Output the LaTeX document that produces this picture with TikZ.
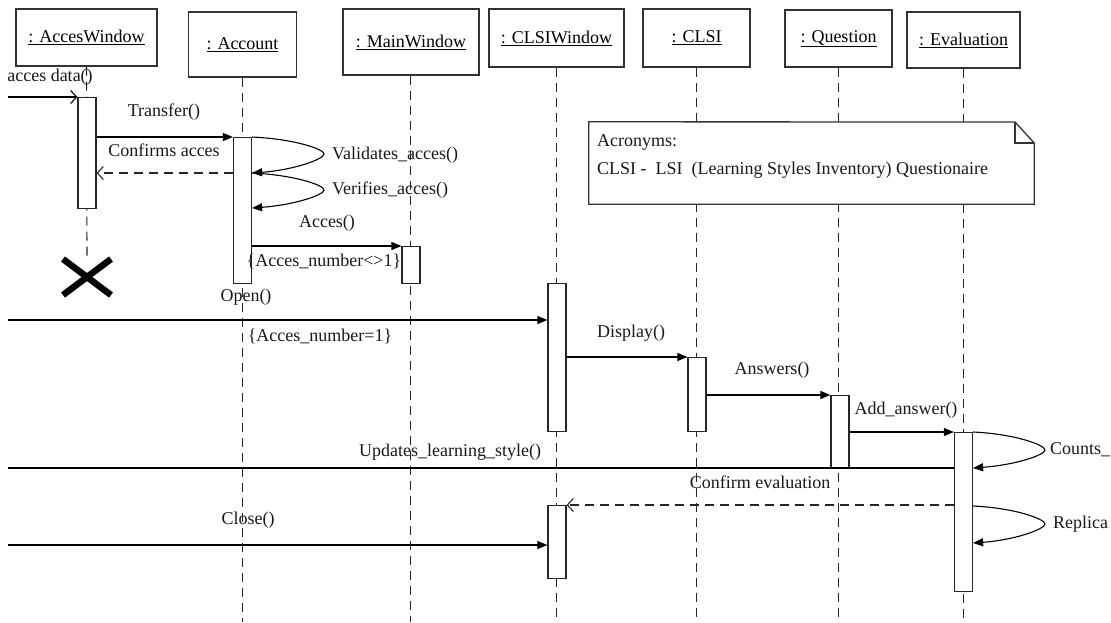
\documentclass[tikz,border=0pt]{standalone}
\usepackage{fontspec}
\setmainfont{Liberation Serif}
\usetikzlibrary{arrows.meta}
\begin{document}
\begin{tikzpicture}[x=1pt,y=-1pt,
  every node/.style={font=\fontsize{18}{21}\selectfont, inner sep=0pt},
  objbox/.style={draw=black!80, line width=1.4pt, fill=white},
  lifeline/.style={draw=black!85, line width=1.1pt, dash pattern=on 9pt off 6pt},
  actbar/.style={draw=black!85, line width=1.2pt, fill=white, minimum width=18pt, anchor=north},
  syncmsg/.style={draw=black, line width=1.1pt, -{Triangle[length=10pt,width=8pt]}},
  openmsg/.style={draw=black, line width=1.1pt, -{Straight Barb[length=6pt,width=13pt,line width=1.1pt]}},
  retmsg/.style={draw=black!85, line width=1.1pt, dash pattern=on 9pt off 6pt, -{Straight Barb[length=6pt,width=13pt,line width=1.1pt]}},
  plainmsg/.style={draw=black, line width=1.1pt},
  lbl/.style={text=black!90}
]
\useasboundingbox (0,0) rectangle (1111,622);
\fill[white] (0,0) rectangle (1111,622);

% object boxes
\node[objbox, minimum width=141pt, minimum height=57pt] (AW) at (86.5,37.5) {\underline{: AccesWindow}};
\node[objbox, minimum width=108pt, minimum height=65pt] (AC) at (242.5,44.5) {\underline{: Account}};
\node[objbox, minimum width=136pt, minimum height=66pt] (MW) at (411,42) {\underline{: MainWindow}};
\node[objbox, minimum width=135pt, minimum height=58pt] (CW) at (556.5,38) {\underline{: CLSIWindow}};
\node[objbox, minimum width=107pt, minimum height=58pt] (CL) at (696.5,38) {\underline{: CLSI}};
\node[objbox, minimum width=107pt, minimum height=57pt] (QU) at (838.5,38.5) {\underline{: Question}};
\node[objbox, minimum width=113pt, minimum height=56pt] (EV) at (963.5,40) {\underline{: Evaluation}};

% lifeline ends
\coordinate (AWx) at (87,257);
\coordinate (ACe) at (242.5,622);
\coordinate (MWe) at (410.5,622);
\coordinate (CWe) at (556.5,622);
\coordinate (CLe) at (696.5,622);
\coordinate (QUe) at (838.5,622);
\coordinate (EVe) at (963.5,622);

\draw[lifeline] (AW.south) -- (AWx);
\draw[lifeline] (AC.south) -- (ACe);
\draw[lifeline] (MW.south -| MWe) -- (MWe);
\draw[lifeline] (CW.south) -- (CWe);
\draw[lifeline] (CL.south) -- (CLe);
\draw[lifeline] (QU.south) -- (QUe);
\draw[lifeline] (EV.south) -- (EVe);

% note
\node[draw=none, minimum width=445pt, minimum height=82pt] (note) at (811.5,163) {};
\draw[draw=black!80, line width=1.3pt, fill=white]
  (note.north west) -- (1015,122) -- (note.north east |- 0,143) -- (note.south east) -- (note.south west) -- cycle;
\draw[draw=black!80, line width=1.3pt] (1015,122) -- (1015,143) -- (note.north east |- 0,143);
\node[lbl, anchor=west] (noteA) at (597,142) {Acronyms:};
\node[lbl, anchor=west] (noteB) at (597,170) {CLSI -\ \ LSI\ \ (Learning Styles Inventory) Questionaire};

% activation bars
\node[actbar, minimum height=111pt] (AWb) at (87,97) {};
\node[actbar, minimum height=146pt] (ACb) at (242.5,137) {};
\node[actbar, minimum height=37pt] (MWb) at (411,246) {};
\node[actbar, minimum height=148pt] (CWb1) at (557,283) {};
\node[actbar, minimum height=74pt] (CLb) at (697,357) {};
\node[actbar, minimum height=73pt] (QUb) at (840,395) {};
\node[actbar, minimum height=159pt] (EVb) at (963.5,432) {};
\node[actbar, minimum height=73pt] (CWb2) at (557,505) {};

% destruction
\draw[line width=6.5pt] (63,259) -- (111,295);
\draw[line width=6.5pt] (63,295) -- (111,259);

% helper coordinates
\coordinate (in1) at (8,97);
\coordinate (y173) at (0,173);
\coordinate (y208) at (0,208);
\coordinate (pk1) at (324,154);
\coordinate (pk2) at (324,190);
\coordinate (in2) at (8,320);
\coordinate (y320) at (0,320);
\coordinate (pk3) at (1045,450);
\coordinate (y468) at (0,468);
\coordinate (out1) at (8,468);
\coordinate (y505) at (0,505);
\coordinate (y506) at (0,506);
\coordinate (y543) at (0,543);
\coordinate (pk4) at (1045,524);
\coordinate (in3) at (8,545);
\coordinate (y545) at (0,545);

% messages
\draw[openmsg] (in1) -- (AWb.north west);
\node[lbl] (lA) at (50,77) {acces data()};

\draw[syncmsg] (AWb.east |- ACb.north) -- (ACb.north west);
\node[lbl] (lB) at (164,112) {Transfer()};

\draw[retmsg] (ACb.west |- y173) -- (AWb.east |- y173);
\node[lbl] (lC) at (164,150) {Confirms acces};

\draw[syncmsg] (ACb.north east) .. controls +(42,2) and +(0,-5) .. (pk1) .. controls +(0,5) and +(42,-3) .. (ACb.east |- y173);
\node[lbl, anchor=west] (lD) at (332,155) {Validates\_acces()};

\draw[syncmsg] (ACb.east |- y173) .. controls +(42,2) and +(0,-5) .. (pk2) .. controls +(0,5) and +(42,-3) .. (ACb.east |- y208);
\node[lbl, anchor=west] (lE) at (332,190) {Verifies\_acces()};

\draw[syncmsg] (ACb.east |- MWb.north) -- (MWb.north west);
\node[lbl] (lF) at (327,223) {Acces()};
\node[lbl] (lG) at (324,261) {\{Acces\_number<>1\}};

\node[lbl] (lH) at (246,297) {Open()};
\draw[syncmsg] (in2) -- (CWb1.west |- y320);
\node[lbl] (lI) at (320,336) {\{Acces\_number=1\}};

\draw[syncmsg] (CWb1.east |- CLb.north) -- (CLb.north west);
\node[lbl] (lJ) at (631,333) {Display()};

\draw[syncmsg] (CLb.east |- QUb.north) -- (QUb.north west);
\node[lbl] (lK) at (772,370) {Answers()};

\draw[syncmsg] (QUb.east |- EVb.north) -- (EVb.north west);
\node[lbl] (lL) at (906,410) {Add\_answer()};

\draw[syncmsg] (EVb.north east) .. controls +(42,2) and +(0,-5) .. (pk3) .. controls +(0,5) and +(42,-3) .. (EVb.east |- y468);
\node[lbl, anchor=west] (lM) at (1050,450) {Counts\_};

\draw[plainmsg] (EVb.west |- y468) -- (out1);
\node[lbl] (lN) at (450,452) {Updates\_learning\_style()};

\draw[retmsg] (EVb.west |- y505) -- (CWb2.north east);
\node[lbl] (lO) at (760,482) {Confirm evaluation};

\draw[syncmsg] (EVb.east |- y506) .. controls +(42,2) and +(0,-5) .. (pk4) .. controls +(0,5) and +(42,-3) .. (EVb.east |- y543);
\node[lbl, anchor=west] (lP) at (1053,524) {Replica};

\draw[syncmsg] (in3) -- (CWb2.west |- y545);
\node[lbl] (lQ) at (248,520) {Close()};
\end{tikzpicture}
\end{document}
